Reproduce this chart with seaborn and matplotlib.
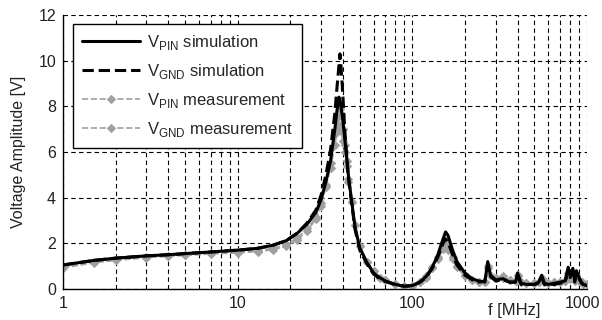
import matplotlib
matplotlib.use('Agg')
import matplotlib.pyplot as plt
import matplotlib.transforms as mtransforms
from matplotlib.ticker import FixedLocator, LogLocator, NullFormatter
import seaborn as sns

# Frequencies in MHz (shared by all series)
freq = [1, 1.5, 2, 3, 4, 5, 7, 10, 13, 16, 19, 22, 25, 28, 30, 32, 34, 36,
        37, 38, 38.5, 39, 40, 41, 42, 43, 45, 47, 50, 55, 60, 65, 70, 80, 90, 100,
        110, 120, 130, 140, 150, 155, 160, 170, 180, 200, 220, 240, 260, 270,
        280, 300, 330, 360, 390, 400, 420, 450, 500, 530, 550, 570, 600, 650,
        700, 750, 780, 800, 830, 850, 870, 900, 930, 950, 1000]

# Voltage amplitudes [V]
v_pin_sim = [1.05, 1.25, 1.35, 1.45, 1.5, 1.55, 1.62, 1.7,
             1.78, 1.92, 2.12, 2.45, 2.85, 3.35, 3.9, 4.7, 5.6, 7.0,
             7.8, 8.4, 8.3, 8.0, 7.4, 6.6, 5.8, 5.0, 3.8, 2.7,
             1.8, 1.15, 0.7, 0.5, 0.35, 0.2, 0.12, 0.15, 0.3, 0.55,
             0.95, 1.5, 2.2, 2.5, 2.35, 1.7, 1.2, 0.7, 0.45, 0.35,
             0.3, 1.2, 0.6, 0.4, 0.45, 0.3, 0.3, 0.7, 0.25, 0.2,
             0.2, 0.3, 0.6, 0.25, 0.2, 0.25, 0.3, 0.35, 0.95, 0.6,
             0.9, 0.35, 0.8, 0.5, 0.3, 0.2, 0.15]
v_gnd_sim = [1.05, 1.25, 1.35, 1.45, 1.5, 1.55, 1.62, 1.7,
             1.78, 1.92, 2.12, 2.45, 2.9, 3.45, 4.1, 5.0, 6.1, 7.7,
             8.8, 9.8, 10.3, 9.8, 8.5, 7.0, 5.9, 4.9, 3.7, 2.6,
             1.7, 1.1, 0.65, 0.45, 0.33, 0.18, 0.12, 0.14, 0.28, 0.5,
             0.9, 1.4, 2.0, 2.2, 2.05, 1.5, 1.05, 0.6, 0.4, 0.3,
             0.35, 1.0, 0.55, 0.35, 0.4, 0.3, 0.3, 0.55, 0.2, 0.2,
             0.2, 0.25, 0.5, 0.2, 0.2, 0.2, 0.25, 0.3, 0.8, 0.5,
             0.75, 0.3, 0.7, 0.45, 0.25, 0.2, 0.15]
v_pin_meas = [0.95, 1.18, 1.28, 1.4, 1.46, 1.5, 1.56, 1.62,
              1.68, 1.78, 1.95, 2.25, 2.65, 3.15, 3.75, 4.55, 5.5, 6.8,
              7.5, 8.0, 7.9, 7.6, 7.0, 6.3, 5.6, 4.8, 3.8, 2.8,
              1.9, 1.2, 0.8, 0.5, 0.4, 0.2, 0.12, 0.15, 0.3, 0.55,
              0.95, 1.4, 1.95, 2.0, 1.85, 1.4, 1.0, 0.6, 0.4, 0.3,
              0.3, 1.0, 0.6, 0.5, 0.55, 0.4, 0.35, 0.6, 0.3, 0.25,
              0.25, 0.3, 0.5, 0.3, 0.25, 0.3, 0.3, 0.35, 0.7, 0.5,
              0.7, 0.4, 0.6, 0.4, 0.3, 0.2, 0.2]
v_gnd_meas = [0.92, 1.15, 1.25, 1.37, 1.43, 1.47, 1.53, 1.58,
              1.64, 1.72, 1.88, 2.15, 2.55, 3.05, 3.65, 4.45, 5.3, 6.3,
              6.9, 7.2, 7.1, 6.9, 6.5, 6.0, 5.4, 4.7, 3.8, 2.8,
              1.9, 1.2, 0.8, 0.5, 0.4, 0.2, 0.12, 0.15, 0.3, 0.5,
              0.9, 1.3, 1.75, 1.8, 1.7, 1.3, 0.95, 0.55, 0.4, 0.3,
              0.3, 0.9, 0.6, 0.5, 0.5, 0.4, 0.35, 0.55, 0.3, 0.25,
              0.25, 0.3, 0.45, 0.3, 0.25, 0.3, 0.3, 0.35, 0.6, 0.45,
              0.6, 0.35, 0.55, 0.35, 0.3, 0.2, 0.2]

x_ticks = [1, 10, 100, 1000]
x_tick_labels = ['1', '10', '100', '1000']
y_ticks = [0, 2, 4, 6, 8, 10, 12]

sns.set_style('white')
plt.rcParams['font.family'] = ['Liberation Sans', 'DejaVu Sans']
plt.rcParams['mathtext.fontset'] = 'custom'
plt.rcParams['mathtext.rm'] = 'Liberation Sans'

fig = plt.figure(figsize=(6.02, 3.2), dpi=100)
ax = fig.add_axes([0.1047, 0.097, 0.8704, 0.856])

grey = '#a0a0a0'
# measurements underneath
sns.lineplot(x=freq, y=v_gnd_meas, ax=ax, color=grey, linestyle='--', lw=1.2,
             marker='D', markersize=4, markeredgecolor=grey, zorder=2)
sns.lineplot(x=freq, y=v_pin_meas, ax=ax, color=grey, linestyle='--', lw=1.2,
             marker='D', markersize=4, markeredgecolor=grey, zorder=2)
# simulations on top
sns.lineplot(x=freq, y=v_gnd_sim, ax=ax, color='black', linestyle='--', lw=2.2, zorder=3)
sns.lineplot(x=freq, y=v_pin_sim, ax=ax, color='black', linestyle='-', lw=2.2, zorder=4)

ax.set_xscale('log')
ax.set_xlim(1, 1000)
ax.set_ylim(0, 12)

ax.xaxis.set_major_locator(FixedLocator(x_ticks))
ax.set_xticklabels(x_tick_labels)
ax.xaxis.set_minor_locator(LogLocator(base=10, subs=range(2, 10)))
ax.xaxis.set_minor_formatter(NullFormatter())
ax.set_yticks(y_ticks)

ax.grid(True, which='both', axis='x', linestyle=(0, (4, 3)), color='black', lw=0.8)
ax.grid(True, which='major', axis='y', linestyle=(0, (4, 3)), color='black', lw=0.8)
ax.set_axisbelow(True)

for side in ['top', 'right']:
    ax.spines[side].set_visible(False)
for side in ['left', 'bottom']:
    ax.spines[side].set_color('black')
    ax.spines[side].set_linewidth(1)

ax.tick_params(axis='both', which='both', direction='in', labelsize=11.5, colors='black',
               length=3, pad=5)
ax.tick_params(axis='x', which='minor', length=2)
for lbl in ax.get_xticklabels() + ax.get_yticklabels():
    lbl.set_color('#222222')
# nudge "1000" left a bit so it stays inside the picture
last = ax.get_xticklabels()[-1]
last.set_transform(last.get_transform() + mtransforms.ScaledTranslation(-5 / 100, 0, fig.dpi_scale_trans))

ax.set_ylabel('Voltage Amplitude [V]', fontsize=11.5, color='#222222')
ax.yaxis.set_label_coords(-0.07, 0.5)
ax.set_xlabel('f [MHz]', fontsize=12, color='#222222')
ax.xaxis.set_label_coords(0.861, -0.05)

# legend in the original order
h_gm, h_pm, h_gs, h_ps = ax.get_lines()[:4]
leg = ax.legend([h_ps, h_gs, h_pm, h_gm],
                [r'V$_{\mathrm{PIN}}$ simulation', r'V$_{\mathrm{GND}}$ simulation',
                 r'V$_{\mathrm{PIN}}$ measurement', r'V$_{\mathrm{GND}}$ measurement'],
                loc='upper left', bbox_to_anchor=(0.019, 0.967), borderaxespad=0,
                fontsize=12, handlelength=3.5, fancybox=False, framealpha=1,
                edgecolor='black', labelspacing=0.6, borderpad=0.55, handletextpad=0.4)
leg.get_frame().set_linewidth(1)
leg.set_zorder(10)

fig.savefig('out.png', dpi=100)
